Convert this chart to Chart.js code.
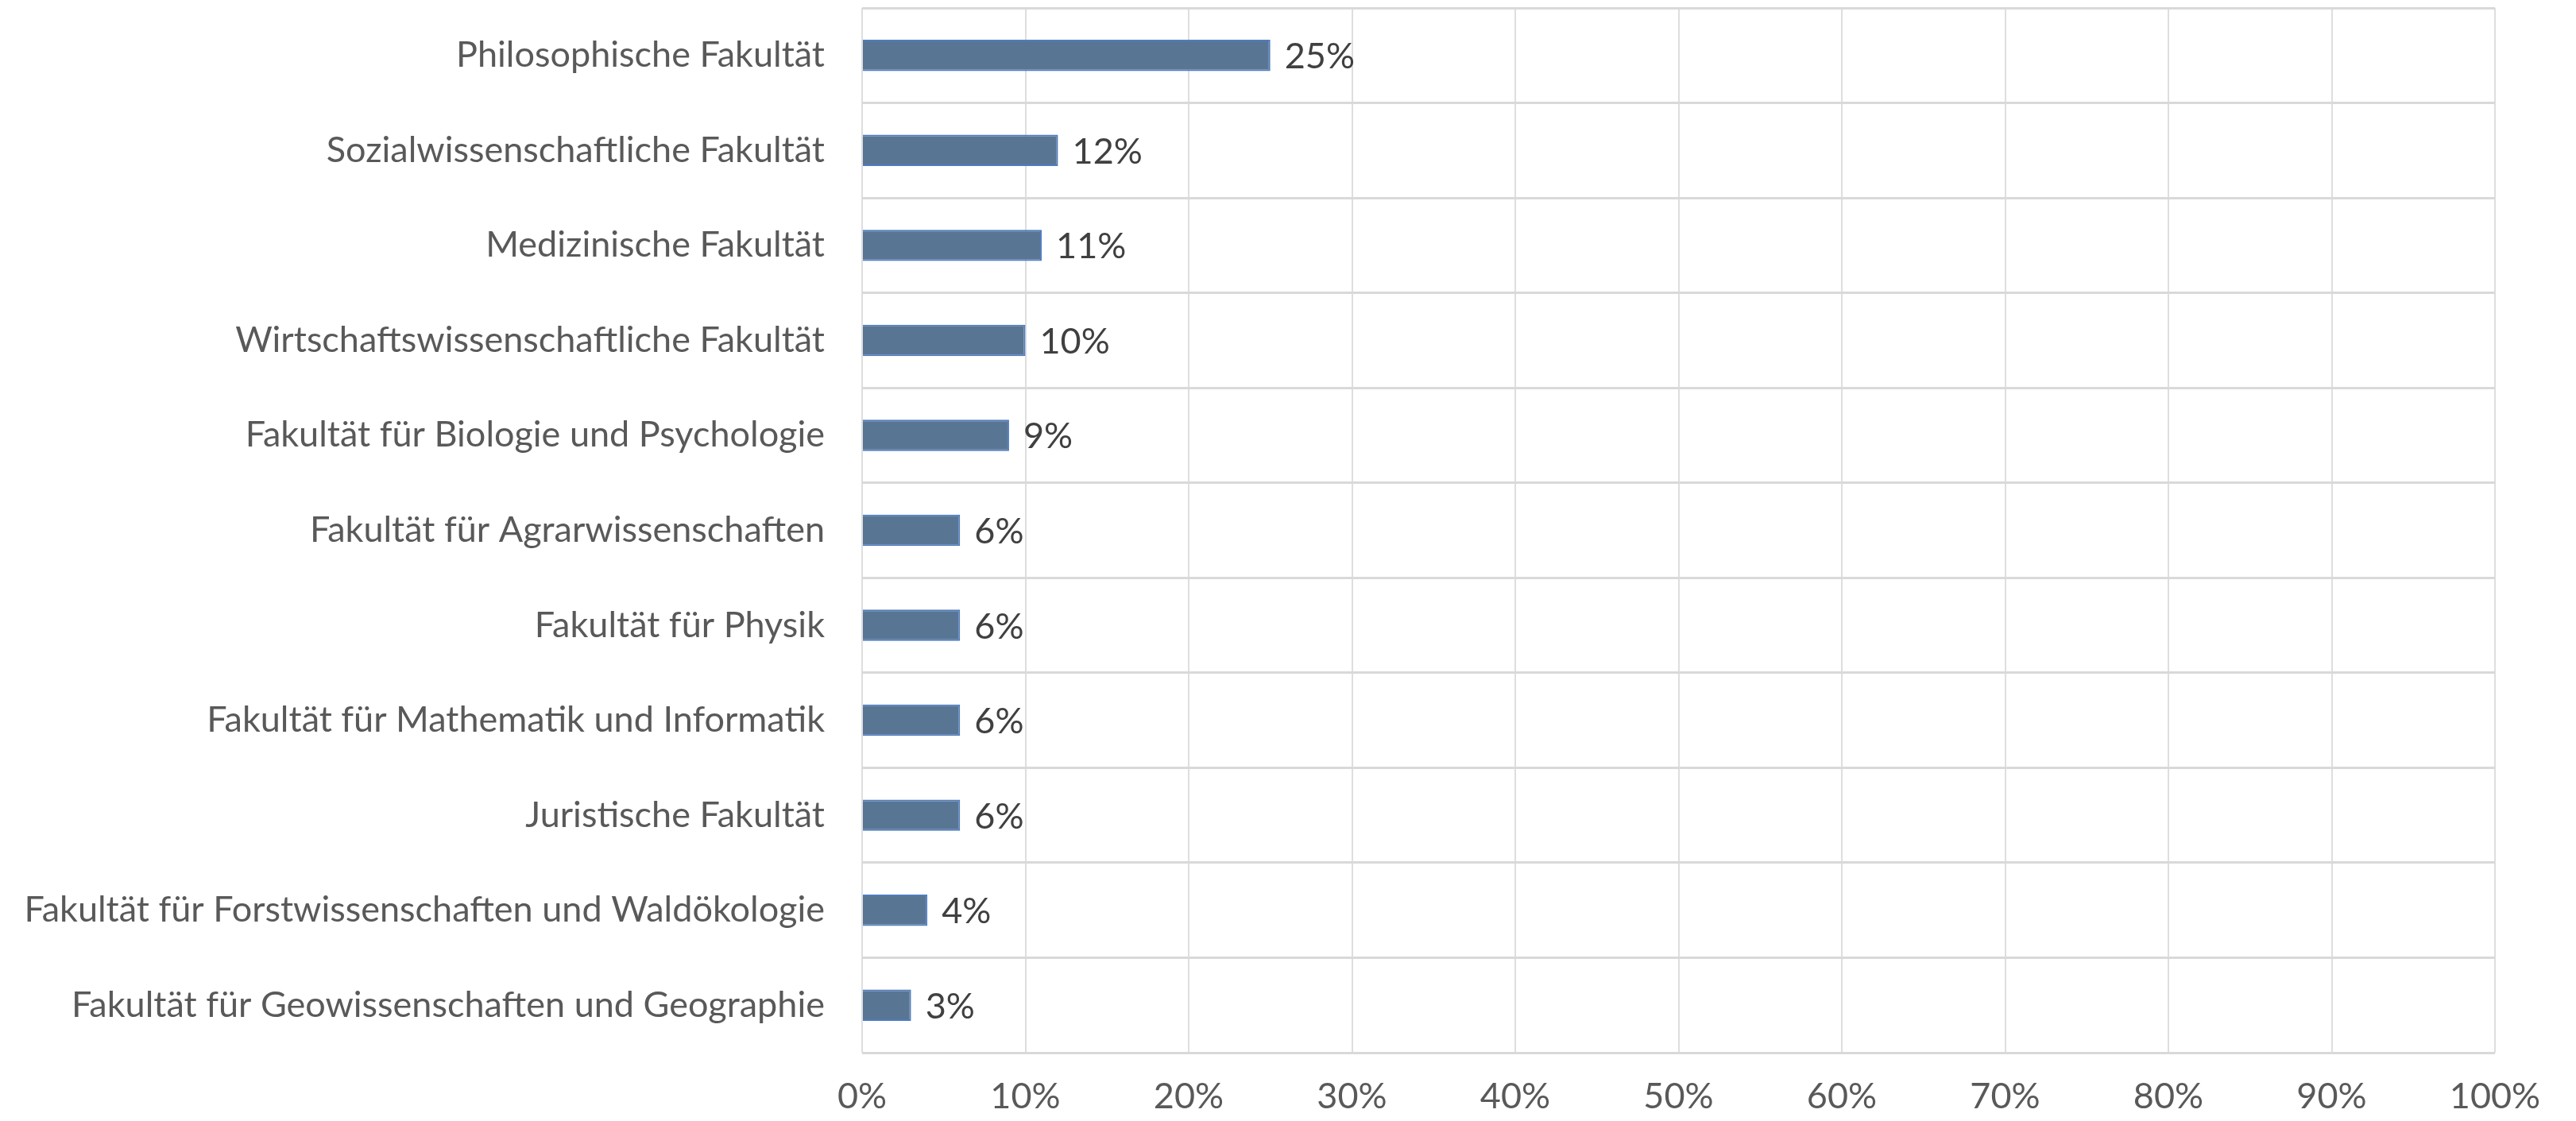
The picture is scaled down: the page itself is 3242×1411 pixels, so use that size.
<!DOCTYPE html>
<html>
<head>
<meta charset="utf-8">
<script src="https://cdn.jsdelivr.net/npm/chart.js@4.4.1/dist/chart.umd.min.js"></script>
<style>
  html, body { margin: 0; padding: 0; background: #ffffff; }
  #wrap { width: 3242px; height: 1411px; position: relative; }
</style>
</head>
<body>
<div id="wrap"><canvas id="c" width="3242" height="1411"></canvas></div>
<script>
const categories = [
  "Philosophische Fakultät",
  "Sozialwissenschaftliche Fakultät",
  "Medizinische Fakultät",
  "Wirtschaftswissenschaftliche Fakultät",
  "Fakultät für Biologie und Psychologie",
  "Fakultät für Agrarwissenschaften",
  "Fakultät für Physik",
  "Fakultät für Mathematik und Informatik",
  "Juristische Fakultät",
  "Fakultät für Forstwissenschaften und Waldökologie",
  "Fakultät für Geowissenschaften und Geographie"
];
const shares = [25, 12, 11, 10, 9, 6, 6, 6, 6, 4, 3];
const xTicks = [0, 10, 20, 30, 40, 50, 60, 70, 80, 90, 100];

const FONT = "Lato, 'Open Sans', sans-serif";
const mctx = document.createElement('canvas').getContext('2d');
mctx.font = "40px " + FONT;
let maxW = 0;
categories.forEach(c => { maxW = Math.max(maxW, mctx.measureText(c).width); });
const labelSize = Math.round(40 * 1013 / maxW);

const dataLabels = {
  id: 'dataLabels',
  afterDatasetsDraw(chart) {
    const ctx = chart.ctx;
    const meta = chart.getDatasetMeta(0);
    ctx.save();
    ctx.font = labelSize + "px " + FONT;
    ctx.fillStyle = '#404040';
    ctx.textAlign = 'left';
    ctx.textBaseline = 'middle';
    meta.data.forEach((bar, i) => {
      ctx.fillText(shares[i] + '%', bar.x + 18, bar.y + 2);
    });
    ctx.restore();
  }
};

new Chart(document.getElementById('c'), {
  type: 'bar',
  data: {
    labels: categories,
    datasets: [{
      data: shares,
      backgroundColor: '#587593',
      borderColor: '#4f7cc0',
      borderWidth: 2,
      categoryPercentage: 1,
      barPercentage: 0.33
    }]
  },
  plugins: [dataLabels],
  options: {
    indexAxis: 'y',
    responsive: false,
    animation: false,
    devicePixelRatio: 1,
    layout: { padding: { top: 10, right: 102, left: 0, bottom: 0 } },
    plugins: { legend: { display: false }, tooltip: { enabled: false } },
    scales: {
      x: {
        min: 0, max: 100,
        afterBuildTicks(scale) { scale.ticks = xTicks.map(v => ({ value: v })); },
        ticks: {
          callback: v => v + '%',
          color: '#595959',
          font: { family: FONT, size: labelSize },
          padding: 28,
          maxRotation: 0
        },
        grid: { color: '#dedede', lineWidth: 2, drawTicks: false },
        border: { display: false },
        afterFit(scale) { scale.height = 1411 - 1325; scale.paddingLeft = 0; scale.paddingRight = 0; }
      },
      y: {
        ticks: {
          color: '#595959',
          font: { family: FONT, size: labelSize },
          padding: 47,
          autoSkip: false
        },
        grid: { color: '#d9d9d9', lineWidth: 3, drawTicks: false, offset: true },
        border: { display: false },
        afterFit(scale) { scale.width = 1085; scale.paddingTop = 0; scale.paddingBottom = 0; }
      }
    }
  }
});
</script>
</body>
</html>
